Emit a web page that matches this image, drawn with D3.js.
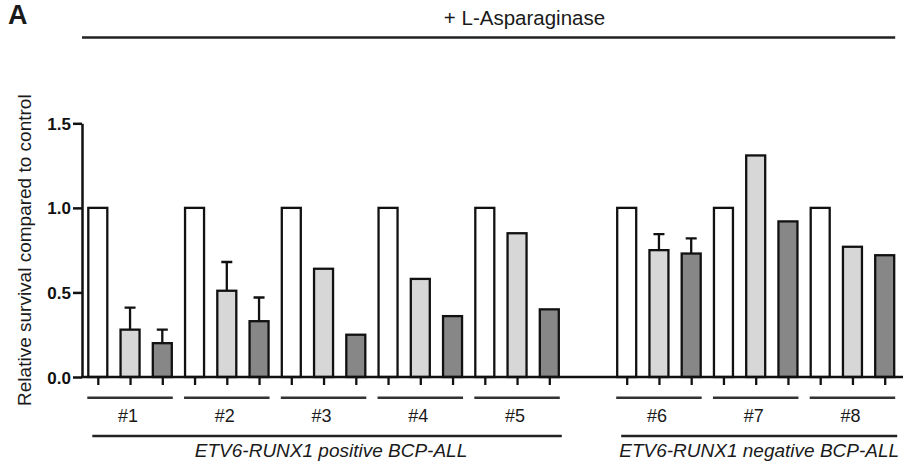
<!DOCTYPE html>
<html>
<head>
<meta charset="utf-8">
<script src="https://cdn.jsdelivr.net/npm/d3@7"></script>
<style>
  body { margin: 0; background: #fff; }
  svg text { font-family: "Liberation Sans", Arial, sans-serif; }
</style>
</head>
<body>
<div id="chart"></div>
<script>
// patients and the subtype each belongs to
const patients = ["#1", "#2", "#3", "#4", "#5", "#6", "#7", "#8"];
const subtypes = ["ETV6-RUNX1 positive BCP-ALL", "ETV6-RUNX1 negative BCP-ALL"];
const patientSubtype = [0, 0, 0, 0, 0, 1, 1, 1];

// relative survival per condition (white = control, light, dark)
const controlValues = [1, 1, 1, 1, 1, 1, 1, 1];
const lightValues = [0.28, 0.51, 0.64, 0.58, 0.85, 0.75, 1.31, 0.77];
const darkValues = [0.20, 0.33, 0.25, 0.36, 0.40, 0.73, 0.92, 0.72];
const lightErr = [0.13, 0.17, null, null, null, 0.095, null, null];
const darkErr = [0.08, 0.14, null, null, null, 0.09, null, null];

const yTicks = [0, 0.5, 1.0, 1.5];
const title = "+ L-Asparaginase";
const yLabel = "Relative survival compared to control";

document.addEventListener("DOMContentLoaded", () => {
    const W = 905, H = 470;
    const fills = ["#ffffff", "#d7d7d7", "#878787"];
    const barW = 19;
    const gapSlots = 1.4; // extra space between the two subtypes

    const svg = d3.select("#chart").append("svg")
        .attr("width", W).attr("height", H);

    // build one record per bar
    let bars = [];
    patients.forEach((p, i) => {
        const base = i * 3 + (patientSubtype[i] === 1 ? gapSlots : 0);
        [controlValues[i], lightValues[i], darkValues[i]].forEach((v, k) => {
            bars.push({
                patient: i,
                cond: k,
                slot: base + k,
                value: v,
                err: k === 1 ? lightErr[i] : (k === 2 ? darkErr[i] : null)
            });
        });
    });

    const maxSlot = d3.max(bars, d => d.slot);
    const x = d3.scaleLinear().domain([0, maxSlot]).range([97.8, 884.7]);
    const y = d3.scaleLinear().domain([0, 1.5]).range([377, 123.3]);

    // title and frame line
    svg.append("text")
        .attr("x", 8).attr("y", 23.5)
        .style("font-size", "27px").style("font-weight", "bold")
        .attr("fill", "#1a1a1a")
        .text("A");

    svg.append("text")
        .attr("x", 524.5).attr("y", 25)
        .attr("text-anchor", "middle")
        .style("font-size", "20.5px")
        .attr("fill", "#1a1a1a")
        .text(title);

    svg.append("line")
        .attr("x1", 82).attr("x2", x(maxSlot) + barW / 2 + 1)
        .attr("y1", 37.5).attr("y2", 37.5)
        .attr("stroke", "#222").attr("stroke-width", 2.5);

    // error bars (upward only)
    const errBars = bars.filter(d => d.err != null);
    svg.selectAll(".err")
        .data(errBars)
        .enter()
        .append("path")
        .attr("class", "err")
        .attr("fill", "none")
        .attr("stroke", "#111")
        .attr("stroke-width", 2.3)
        .attr("d", d => {
            const cx = x(d.slot), top = y(d.value + d.err);
            return "M" + cx + "," + y(d.value) + "V" + top +
                "M" + (cx - 5.5) + "," + top + "H" + (cx + 5.5);
        });

    // bars
    svg.selectAll(".bar")
        .data(bars)
        .enter()
        .append("rect")
        .attr("class", "bar")
        .attr("x", d => x(d.slot) - barW / 2)
        .attr("width", barW)
        .attr("y", d => y(d.value))
        .attr("height", d => y(0) - y(d.value))
        .attr("fill", d => fills[d.cond])
        .attr("stroke", "#111")
        .attr("stroke-width", 2.3);

    // y axis
    const yAxis = svg.append("g")
        .attr("transform", "translate(82,0)")
        .call(d3.axisLeft(y).tickValues(yTicks).tickFormat(d3.format(".1f"))
            .tickSize(9).tickSizeOuter(0).tickPadding(2));
    yAxis.select(".domain").attr("stroke", "#111").attr("stroke-width", 2.5);
    yAxis.selectAll(".tick line").attr("stroke", "#111").attr("stroke-width", 2.5);
    yAxis.selectAll(".tick text")
        .style("font-size", "17px").style("font-weight", "bold")
        .style("font-family", "'Liberation Sans', Arial, sans-serif")
        .attr("fill", "#111").attr("dy", "0.36em");

    svg.append("text")
        .attr("transform", "translate(31," + y(0.75) + ") rotate(-90)")
        .attr("text-anchor", "middle")
        .style("font-size", "19px")
        .attr("fill", "#1a1a1a")
        .text(yLabel);

    // x axis: ticks under every bar
    const xAxis = svg.append("g")
        .attr("transform", "translate(0," + y(0) + ")")
        .call(d3.axisBottom(x).tickValues(bars.map(d => d.slot)).tickFormat("")
            .tickSize(8).tickSizeOuter(0));
    xAxis.select(".domain").remove();
    xAxis.selectAll(".tick line").attr("stroke", "#111").attr("stroke-width", 2.3);
    svg.append("line")
        .attr("x1", 81).attr("x2", 903)
        .attr("y1", y(0)).attr("y2", y(0))
        .attr("stroke", "#111").attr("stroke-width", 2.5);

    // patient groups
    patients.forEach((p, i) => {
        const pb = bars.filter(d => d.patient === i);
        const left = x(d3.min(pb, d => d.slot)) - barW / 2 - 1;
        const right = x(d3.max(pb, d => d.slot)) + barW / 2 + 1;
        svg.append("line")
            .attr("x1", left).attr("x2", right)
            .attr("y1", 397.7).attr("y2", 397.7)
            .attr("stroke", "#333").attr("stroke-width", 2.5);
        svg.append("text")
            .attr("x", (left + right) / 2 - 2).attr("y", 421.5)
            .attr("text-anchor", "middle")
            .style("font-size", "18px")
            .attr("fill", "#1a1a1a")
            .text(p);
    });

    // subtype groups
    subtypes.forEach((s, k) => {
        const sb = bars.filter(d => patientSubtype[d.patient] === k);
        const left = x(d3.min(sb, d => d.slot)) - barW / 2 + 4;
        const right = x(d3.max(sb, d => d.slot)) + barW / 2 + 3;
        svg.append("line")
            .attr("x1", left).attr("x2", right)
            .attr("y1", 436).attr("y2", 436)
            .attr("stroke", "#222").attr("stroke-width", 2.5);
        svg.append("text")
            .attr("x", (left + right) / 2 + (k === 0 ? 4 : 0)).attr("y", 457)
            .attr("text-anchor", "middle")
            .style("font-size", "19px").style("font-style", "italic")
            .attr("fill", "#1a1a1a")
            .text(s);
    });
});
</script>
</body>
</html>
